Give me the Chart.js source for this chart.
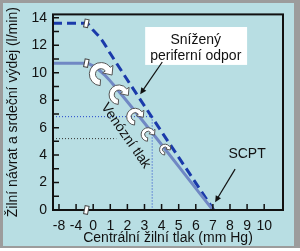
<!DOCTYPE html>
<html>
<head>
<meta charset="utf-8">
<script src="https://cdn.jsdelivr.net/npm/chart.js@4.4.1/dist/chart.umd.min.js"></script>
<style>
  html, body { margin: 0; padding: 0; background: #ffffff; }
  #frame { position: absolute; left: 0; top: 0; width: 300px; height: 248px; background: #9c9c9c; }
  #panel { position: absolute; left: 3px; top: 3px; width: 291px; height: 243px; background: #b8dee3; }
  #chartBox { position: absolute; left: 0; top: 0; width: 300px; height: 251px; }
</style>
</head>
<body>
<div id="frame"></div>
<div id="panel"></div>
<div id="chartBox"><canvas id="cvpChart" width="300" height="251"></canvas></div>
<script>
const FONT = 'Arial, "Liberation Sans", sans-serif';

// Axis ticks (mm Hg / l/min)
const xTickValues = [-8, -4, 0, 1, 2, 3, 4, 5, 6, 7, 8, 9, 10];
const yTickValues = [0, 2, 4, 6, 8, 10, 12, 14];

// Reduced peripheral resistance (dashed curve)
const dashedX = [-9.4, -1.6, 0, 0.5, 1, 7.05];
const dashedY = [13.6, 13.6, 13.1, 12.4, 11.4, 0];

// Normal venous return curve (solid)
const solidX = [-9.4, -1.6, 0, 0.7, 1.4, 7];
const solidY = [10.7, 10.7, 10.5, 9.8, 8.8, 0];

// Dotted guide lines
const blueGuideX = [-9.4, 3.45, 3.45];
const blueGuideY = [6.8, 6.8, 0];
const blackGuideX = [-9.4, 1.35];
const blackGuideY = [5.2, 5.2];

// Axis break is drawn at this pressure
const breakX = -1.6;

// Curved white arrows (pressure, flow, size)
const shiftArrowX = [0.45, 1.5, 2.45, 3.2, 4.2];
const shiftArrowY = [9.9, 8.4, 6.8, 5.5, 4.4];
const shiftArrowR = [8.5, 7.2, 6.2, 5, 4];

// Negative pressures are squeezed: -8 and -4 sit one unit apart
function toAxis(v) {
  return v < 0 ? v / 4 : v;
}
function fromAxis(v) {
  return v < 0 ? Math.round(v * 4) : Math.round(v);
}
function points(xs, ys) {
  return xs.map((x, i) => ({ x: toAxis(x), y: ys[i] }));
}

function drawCurvedArrow(ctx, cx, cy, r) {
  const w = r * 0.72;
  const a0 = 0.52 * Math.PI;
  const a1 = 1.8 * Math.PI;
  const dx = Math.cos(a1), dy = Math.sin(a1);
  const tx = -Math.sin(a1), ty = Math.cos(a1);
  const hb = w * 0.55, hl = w * 1.2;
  ctx.beginPath();
  ctx.arc(cx, cy, r + w / 2, a0, a1);
  ctx.lineTo(cx + dx * (r + w / 2 + hb), cy + dy * (r + w / 2 + hb));
  ctx.lineTo(cx + dx * r + tx * hl, cy + dy * r + ty * hl);
  ctx.lineTo(cx + dx * (r - w / 2 - hb), cy + dy * (r - w / 2 - hb));
  ctx.arc(cx, cy, r - w / 2, a1, a0, true);
  ctx.closePath();
  ctx.fillStyle = "#ffffff";
  ctx.fill();
  ctx.lineWidth = 1;
  ctx.strokeStyle = "#555555";
  ctx.stroke();
}

function drawPointer(ctx, x1, y1, x2, y2) {
  const ang = Math.atan2(y2 - y1, x2 - x1);
  ctx.strokeStyle = "#111111";
  ctx.fillStyle = "#111111";
  ctx.lineWidth = 1.2;
  ctx.beginPath();
  ctx.moveTo(x1, y1);
  ctx.lineTo(x2 - Math.cos(ang) * 4, y2 - Math.sin(ang) * 4);
  ctx.stroke();
  ctx.beginPath();
  ctx.moveTo(x2, y2);
  ctx.lineTo(x2 - Math.cos(ang - 0.45) * 7, y2 - Math.sin(ang - 0.45) * 7);
  ctx.lineTo(x2 - Math.cos(ang + 0.45) * 7, y2 - Math.sin(ang + 0.45) * 7);
  ctx.closePath();
  ctx.fill();
}

function drawBreak(ctx, x, y) {
  ctx.save();
  ctx.translate(x, y);
  ctx.rotate(0.2);
  ctx.fillStyle = "#ffffff";
  ctx.fillRect(-2, -4, 4, 8);
  ctx.strokeStyle = "#444444";
  ctx.lineWidth = 1;
  ctx.strokeRect(-2, -4, 4, 8);
  ctx.restore();
}

// Frame, inner ticks and annotations
const decorPlugin = {
  id: "decor",
  afterDatasetsDraw(chart) {
    const ctx = chart.ctx;
    const xs = chart.scales.x;
    const ys = chart.scales.y;
    const area = chart.chartArea;
    const px = (v) => xs.getPixelForValue(v);
    const py = (v) => ys.getPixelForValue(v);

    ctx.save();

    // plot frame
    ctx.strokeStyle = "#111111";
    ctx.lineWidth = 2;
    ctx.strokeRect(area.left, area.top, area.right - area.left, area.bottom - area.top);

    // ticks pointing inward
    ctx.lineWidth = 1.5;
    ctx.beginPath();
    for (let v = 0; v <= 14; v++) {
      ctx.moveTo(area.left, py(v));
      ctx.lineTo(area.left + 6, py(v));
    }
    xTickValues.forEach((v) => {
      ctx.moveTo(px(toAxis(v)), area.bottom);
      ctx.lineTo(px(toAxis(v)), area.bottom - 6);
    });
    ctx.stroke();

    // axis break marks
    drawBreak(ctx, px(toAxis(breakX)), py(dashedY[1]));
    drawBreak(ctx, px(toAxis(breakX)), py(solidY[1]));
    drawBreak(ctx, px(toAxis(breakX)), area.bottom);

    // curved arrows showing the shift
    shiftArrowX.forEach((x, i) => {
      drawCurvedArrow(ctx, px(x), py(shiftArrowY[i]), shiftArrowR[i]);
    });

    // callout box
    const bx1 = px(3.04), bx2 = px(9.0), by1 = py(13.33), by2 = py(10.57);
    ctx.fillStyle = "#ffffff";
    ctx.fillRect(bx1, by1, bx2 - bx1, by2 - by1);
    ctx.fillStyle = "#111111";
    ctx.font = "14px " + FONT;
    ctx.textAlign = "center";
    ctx.textBaseline = "middle";
    ctx.fillText("Snížený", px(6.0), py(12.4));
    ctx.fillText("periferní odpor", px(6.0), py(11.2));
    drawPointer(ctx, px(4.04), py(10.78), px(2.75), py(8.44));

    // SCPT label
    ctx.fillStyle = "#111111";
    ctx.fillText("SCPT", px(9.0), py(4.04));
    drawPointer(ctx, px(8.3), py(2.98), px(7.13), py(0.57));

    // rotated label along the solid curve
    ctx.save();
    ctx.translate(px(1.9), py(5.4));
    ctx.rotate(0.96);
    ctx.fillStyle = "#111111";
    ctx.fillText("Venózní tlak", 0, 0);
    ctx.restore();

    ctx.restore();
  },
};

const ctx = document.getElementById("cvpChart").getContext("2d");
new Chart(ctx, {
  type: "line",
  data: {
    datasets: [
      {
        label: "blue guide",
        data: points(blueGuideX, blueGuideY),
        borderColor: "#2244cc",
        borderWidth: 1,
        borderDash: [1, 2],
        pointRadius: 0,
        tension: 0,
      },
      {
        label: "black guide",
        data: points(blackGuideX, blackGuideY),
        borderColor: "#333333",
        borderWidth: 1,
        borderDash: [1, 2],
        pointRadius: 0,
        tension: 0,
      },
      {
        label: "Normal",
        data: points(solidX, solidY),
        borderColor: "#7088c4",
        borderWidth: 3,
        pointRadius: 0,
        cubicInterpolationMode: "monotone",
      },
      {
        label: "Snížený periferní odpor",
        data: points(dashedX, dashedY),
        borderColor: "#1a3aaa",
        borderWidth: 3,
        borderDash: [9, 5],
        pointRadius: 0,
        cubicInterpolationMode: "monotone",
      },
    ],
  },
  options: {
    responsive: false,
    animation: false,
    layout: { padding: { left: 2, top: 9, right: 17, bottom: 1 } },
    plugins: {
      legend: { display: false },
      tooltip: { enabled: false },
    },
    scales: {
      x: {
        type: "linear",
        min: -2.35,
        max: 11.1,
        grid: { display: false, drawTicks: false },
        border: { display: false },
        afterBuildTicks: (scale) => {
          scale.ticks = xTickValues.map((v) => ({ value: toAxis(v) }));
        },
        afterFit: (scale) => {
          scale.height = 40;
        },
        ticks: {
          autoSkip: false,
          maxRotation: 0,
          minRotation: 0,
          padding: 8,
          color: "#111111",
          font: { family: FONT, size: 14 },
          callback: (value) => String(fromAxis(value)),
        },
        title: {
          display: true,
          text: "Centrální žilní tlak (mm Hg)",
          color: "#111111",
          font: { family: FONT, size: 14 },
          padding: { top: 0, bottom: 3 },
        },
      },
      y: {
        type: "linear",
        min: 0,
        max: 14.25,
        grid: { display: false, drawTicks: false },
        border: { display: false },
        afterBuildTicks: (scale) => {
          scale.ticks = yTickValues.map((v) => ({ value: v }));
        },
        afterFit: (scale) => {
          scale.width = 51;
        },
        ticks: {
          padding: 6,
          color: "#111111",
          font: { family: FONT, size: 14 },
        },
        title: {
          display: true,
          text: "Žilní návrat a srdeční výdej (l/min)",
          color: "#111111",
          font: { family: FONT, size: 14 },
          padding: { top: 3, bottom: 0 },
        },
      },
    },
  },
  plugins: [decorPlugin],
});
</script>
</body>
</html>
